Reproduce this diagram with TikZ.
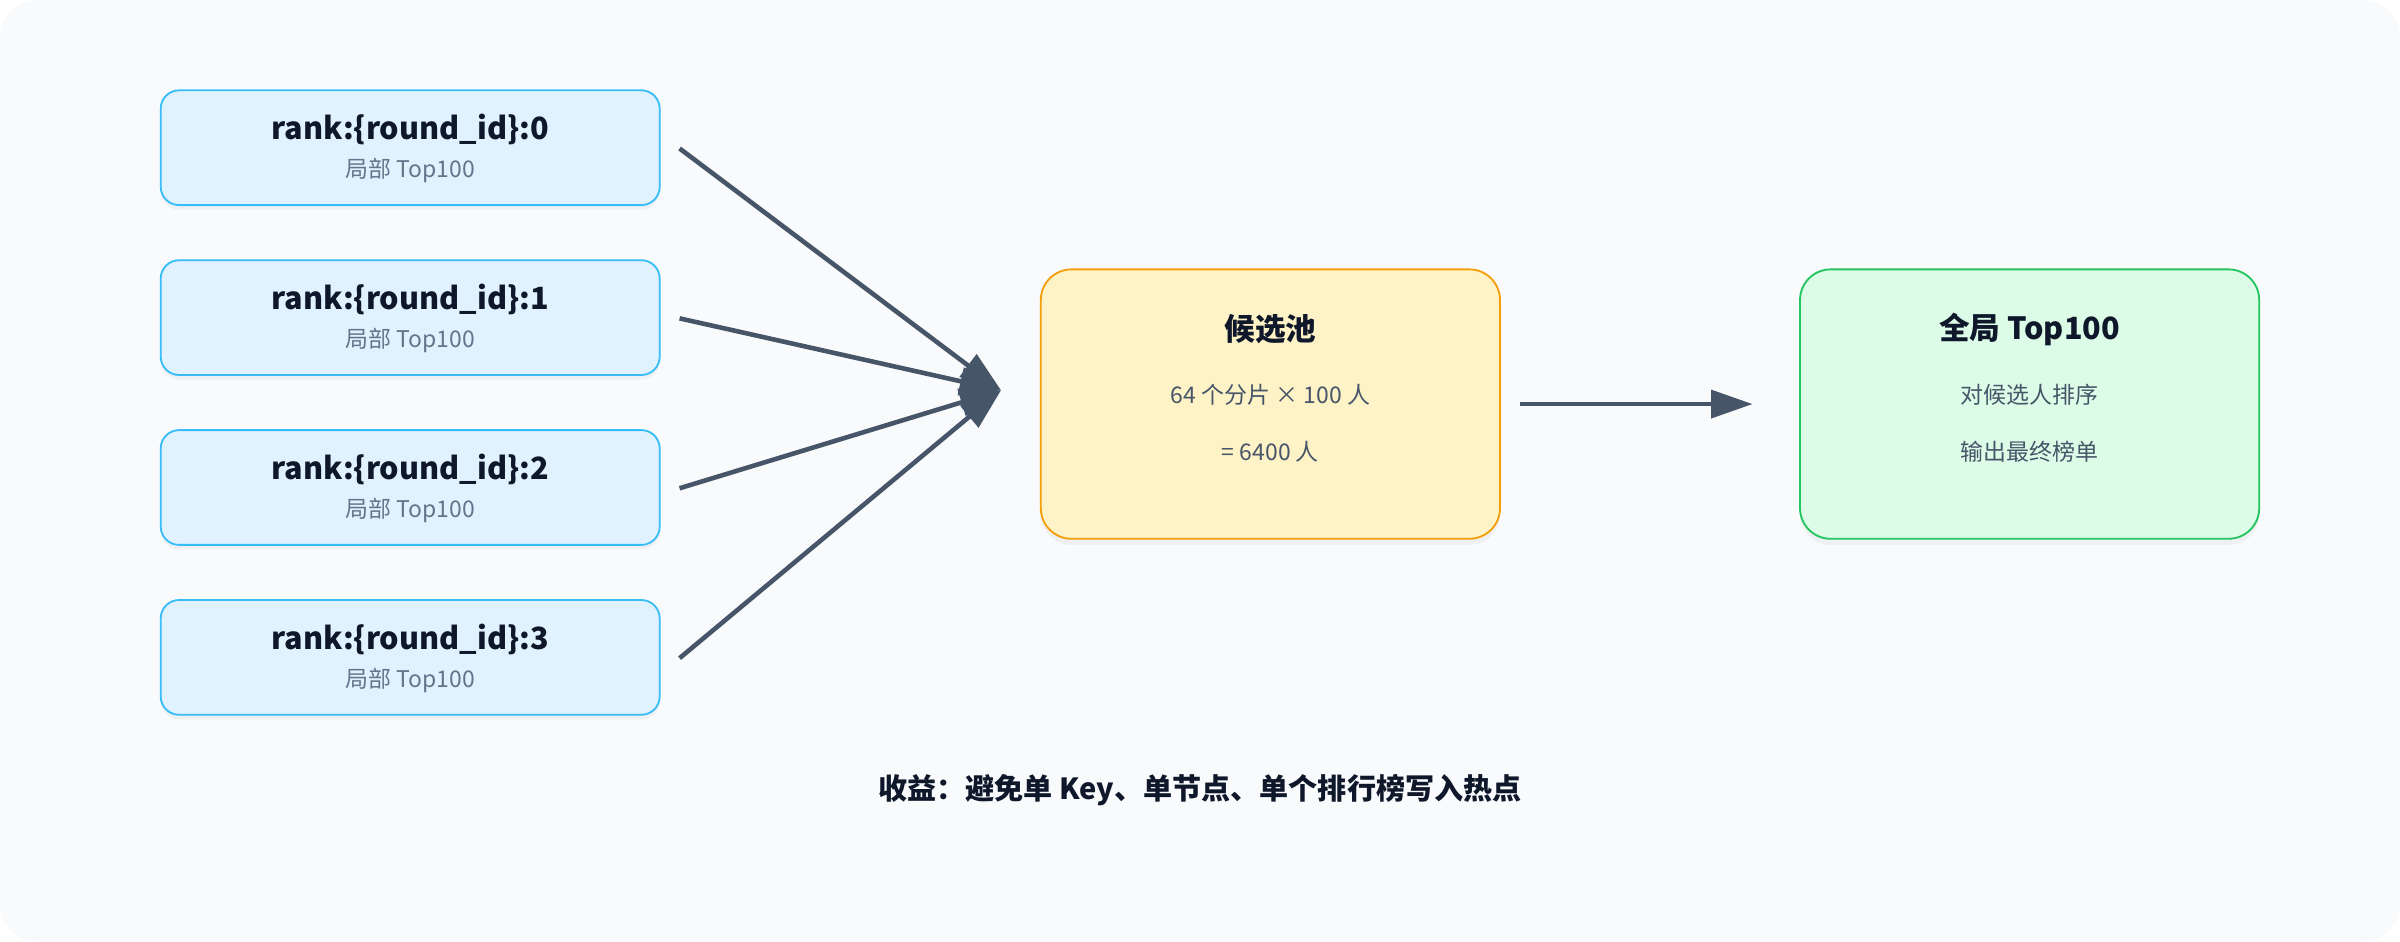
\documentclass[tikz,border=0pt]{standalone}
\usepackage{fontspec}
\setmainfont{Noto Sans CJK SC}
\usetikzlibrary{arrows.meta,shadows}
\definecolor{bgc}{HTML}{F8FAFC}
\definecolor{shardfill}{HTML}{E0F2FE}
\definecolor{sharddraw}{HTML}{38BDF8}
\definecolor{poolfill}{HTML}{FEF3C7}
\definecolor{pooldraw}{HTML}{F59E0B}
\definecolor{topfill}{HTML}{DCFCE7}
\definecolor{topdraw}{HTML}{22C55E}
\definecolor{linec}{HTML}{475569}
\definecolor{titlec}{HTML}{0F172A}
\definecolor{subc}{HTML}{64748B}
\tikzset{
  shard/.style  = { draw=sharddraw, fill=shardfill, rounded corners=6pt, line width=0.6pt,
                    minimum width=163pt, minimum height=37.5pt, align=center,
                    drop shadow={opacity=0.08, shadow xshift=0pt, shadow yshift=-1.5pt} },
  bigbox/.style = { rounded corners=10pt, line width=0.6pt,
                    minimum width=150pt, minimum height=88pt, align=center,
                    drop shadow={opacity=0.08, shadow xshift=0pt, shadow yshift=-2pt} },
  flow/.style   = { draw=linec, line width=1.5pt, -{Triangle[length=13.5pt,width=9pt]} },
  ttl/.style    = { font=\fontsize{10}{12}\selectfont\bfseries, text=titlec },
  sub/.style    = { font=\fontsize{7.5}{9}\selectfont, text=subc }
}
\begin{document}
\begin{tikzpicture}[x=0.5pt,y=-0.5pt]
  \fill[bgc, rounded corners=12pt] (0,0) rectangle (1568,615);
  \useasboundingbox (0,0) rectangle (1568,615);

  % shards
  \foreach \i/\y in {0/96.5,1/207.5,2/318.5,3/429.5}{
    \node[shard] (shard\i) at (268,\y) {};
    \node[ttl] at (268,\y-12) {rank:\{round\_id\}:\i};
    \node[sub] at (268,\y+15) {局部 Top100};
    \coordinate (src\i) at (444,{\y+0.5});
  }

  % pool and result
  \node[bigbox, draw=pooldraw, fill=poolfill] (pool) at (830,264) {};
  \node[ttl] at (830,215) {候选池};
  \node[sub, text=linec] at (830,258) {64 个分片 × 100 人};
  \node[sub, text=linec] at (830,295) {= 6400 人};

  \node[bigbox, draw=topdraw, fill=topfill] (top) at (1326,264) {};
  \node[ttl] at (1326,215) {全局 Top100};
  \node[sub, text=linec] at (1326,258) {对候选人排序};
  \node[sub, text=linec] at (1326,295) {输出最终榜单};

  \coordinate (merge) at (654,255);
  \coordinate (out0) at (993,264);
  \coordinate (out1) at (1145,264);

  \foreach \i in {0,...,3}
    \draw[flow] (src\i) -- (merge);
  \draw[flow] (out0) -- (out1);

  \node[ttl, font=\fontsize{9.5}{11}\selectfont\bfseries] (gain) at (784,516)
    {收益：避免单 Key、单节点、单个排行榜写入热点};
\end{tikzpicture}
\end{document}
